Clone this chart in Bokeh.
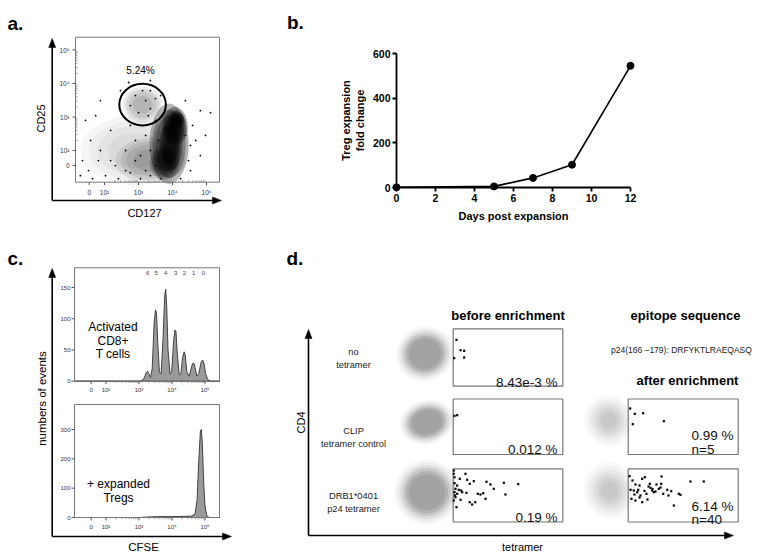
import numpy as np
from bokeh.plotting import figure
from bokeh.models import Range1d, FixedTicker, LinearAxis
from bokeh.core.properties import value
from bokeh.embed import file_html
from bokeh.resources import INLINE

FONT = "Liberation Sans"

# ======================= DATA =======================
# flow-cytometry display scale (biexponential display units: 2 -> 10^2 ... 5 -> 10^5)
flow_ticks = [1.55, 2, 3, 4, 5]
flow_tick_labels = ["0", "10²", "10³", "10⁴", "10⁵"]

# ---- (a) CD127 vs CD25 dot plot ----
a_xlabel = "CD127"
a_ylabel = "CD25"
a_gate_u = [3.12]
a_gate_v = [3.37]
a_gate_w = [1.37]
a_gate_h = [1.24]
a_gate_text = ["5.24%"]
a_gate_text_u = [3.06]
a_gate_text_v = [4.38]
# dot density summarised as ellipses (centre, extent, density)
a_cloud_u = [2.91, 3.35, 3.12, 3.90, 3.76, 4.07, 4.12, 3.95]
a_cloud_v = [2.00, 1.70, 3.37, 2.20, 1.62, 2.72, 2.90, 2.15]
a_cloud_w = [3.24, 2.06, 1.18, 1.15, 0.85, 0.75, 0.47, 0.60]
a_cloud_h = [2.09, 1.34, 1.07, 2.40, 1.00, 1.15, 0.54, 1.50]
a_cloud_density = [0.10, 0.22, 0.22, 0.80, 0.65, 0.95, 0.90, 0.70]
# isolated events
a_dot_u = [1.88, 1.74, 1.44, 2.47, 2.18, 2.76, 4.82, 4.97, 5.12, 4.82, 4.53, 2.32, 1.88, 1.53, 1.29, 2.62,
           2.91, 3.35, 3.06, 4.68, 4.38, 3.65, 3.35, 2.71, 3.35, 1.59, 1.35, 2.03, 2.41, 3.21, 2.91, 2.62,
           2.18, 1.82, 3.50, 4.47, 4.59, 3.65, 4.24, 1.65, 3.35, 3.50, 3.21, 3.59, 4.53, 4.38, 3.06, 2.76,
           2.91, 3.21, 3.35, 3.00, 2.76, 3.50, 3.12, 3.29]
a_dot_v = [3.49, 3.04, 2.90, 3.79, 2.60, 2.75, 3.19, 2.45, 3.13, 1.85, 1.40, 1.55, 2.00, 1.40, 1.25, 1.40,
           1.70, 1.25, 1.16, 2.30, 3.49, 3.64, 3.79, 4.03, 4.09, 2.30, 1.70, 1.25, 1.16, 2.45, 2.30, 2.00,
           1.70, 1.70, 2.90, 1.70, 2.75, 1.16, 1.16, 1.16, 2.00, 1.55, 1.40, 2.30, 2.15, 2.45, 1.85, 1.34,
           3.64, 3.49, 3.25, 3.13, 3.34, 3.55, 3.79, 3.04]

# ---- (b) Treg expansion ----
b_days = [0, 5, 7, 9, 12]
b_fold = [1, 5, 43, 102, 545]
b_xticks = [0, 2, 4, 6, 8, 10, 12]
b_yticks = [0, 200, 400, 600]
b_xlabel = "Days post expansion"
b_ylabel = "Treg expansion\nfold change"

# ---- (c) CFSE histograms ----
c_top_u = [1.06, 3.05, 3.15, 3.22, 3.26, 3.30, 3.35, 3.40, 3.46, 3.50, 3.53, 3.57, 3.62, 3.67, 3.73, 3.78,
           3.81, 3.84, 3.88, 3.94, 3.99, 4.05, 4.09, 4.12, 4.16, 4.22, 4.27, 4.32, 4.37, 4.40, 4.45, 4.52,
           4.57, 4.62, 4.66, 4.70, 4.75, 4.81, 4.88, 4.93, 4.97, 5.02, 5.08, 5.15, 5.45]
c_top_n = [0, 0, 4, 14, 16, 12, 6, 20, 95, 114, 110, 60, 14, 12, 70, 138,
           147, 120, 50, 12, 15, 65, 82, 80, 45, 10, 12, 38, 47, 42, 15, 8,
           18, 28, 29, 22, 8, 12, 30, 34, 28, 12, 3, 0, 0]
c_bot_u = [1.06, 3.00, 3.30, 3.60, 4.00, 4.40, 4.60, 4.70, 4.76, 4.81, 4.86, 4.89, 4.92, 4.96, 5.00, 5.05, 5.12, 5.45]
c_bot_n = [0, 0, 2, 3, 3, 4, 5, 12, 60, 190, 295, 300, 250, 120, 40, 8, 0, 0]
c_top_yticks = [0, 50, 100, 150]
c_bot_yticks = [0, 100, 200, 300]
c_div_u = [3.26, 3.52, 3.81, 4.11, 4.38, 4.66, 4.95]
c_div_labels = ["6", "5", "4", "3", "2", "1", "0"]
c_top_text = ["Activated", "CD8+", "T cells"]
c_bot_text = ["+ expanded", "Tregs"]
c_xlabel = "CFSE"
c_ylabel = "numbers of events"

# ---- (d) tetramer staining ----
d_row_labels = [["no", "tetramer"], ["CLIP", "tetramer control"], ["DRB1*0401", "p24 tetramer"]]
d_before_pct = ["8.43e-3 %", "0.012 %", "0.19 %"]
d_after_pct = ["0.99 %", "6.14 %"]
d_after_n = ["n=5", "n=40"]
d_headers = ["before enrichment", "epitope sequence", "after enrichment"]
d_epitope = "p24(166 –179): DRFYKTLRAEQASQ"
d_xlabel = "tetramer"
d_ylabel = "CD4"
# tetramer+ events (tetramer, CD4) in box units
d1b_t = [0.030, 0.067, 0.100, 0.009, 0.100]
d1b_c = [0.808, 0.627, 0.617, 0.488, 0.500]
d2b_t = [0.012, 0.036]
d2b_c = [0.697, 0.708]
d3b_t = [0.005, 0.005, 0.012, 0.112, 0.060, 0.128, 0.151, 0.188, 0.304, 0.340, 0.462, 0.593, 0.370, 0.012,
         0.036, 0.021, 0.051, 0.073, 0.012, 0.036, 0.082, 0.121, 0.224, 0.249, 0.274, 0.295, 0.477, 0.021,
         0.067, 0.151, 0.173, 0.201, 0.030, 0.005, 0.015]
d3b_c = [0.968, 0.906, 0.842, 0.906, 0.812, 0.793, 0.718, 0.767, 0.756, 0.705, 0.737, 0.711, 0.624, 0.729,
         0.686, 0.624, 0.605, 0.592, 0.560, 0.530, 0.560, 0.549, 0.530, 0.517, 0.541, 0.436, 0.517, 0.466,
         0.417, 0.372, 0.329, 0.372, 0.278, 0.404, 0.498]
d2a_t = [0.018, 0.060, 0.136, 0.042, 0.324]
d2a_c = [0.829, 0.733, 0.744, 0.546, 0.600]
d3a_t = [0.012, 0.127, 0.151, 0.303, 0.566, 0.687, 0.066, 0.103, 0.196, 0.300, 0.021, 0.051, 0.091, 0.203,
         0.218, 0.233, 0.248, 0.355, 0.391, 0.166, 0.318, 0.460, 0.475, 0.112, 0.030, 0.066, 0.127, 0.415,
         0.082, 0.278, 0.185, 0.221, 0.148, 0.039, 0.257, 0.103, 0.366, 0.175, 0.294, 0.057]
d3a_c = [0.861, 0.812, 0.842, 0.855, 0.761, 0.761, 0.705, 0.686, 0.718, 0.718, 0.605, 0.592, 0.605, 0.643,
         0.592, 0.560, 0.573, 0.605, 0.579, 0.530, 0.530, 0.530, 0.511, 0.498, 0.436, 0.404, 0.372, 0.310,
         0.560, 0.624, 0.667, 0.620, 0.584, 0.780, 0.705, 0.460, 0.498, 0.423, 0.648, 0.517]
# CD4+ populations (centre, extent) in box units, per row
d_cloud_before_t = [-0.258, -0.240, -0.240]
d_cloud_before_c = [0.564, 0.582, 0.560]
d_cloud_before_w = [0.37, 0.35, 0.41]
d_cloud_before_h = [0.66, 0.55, 0.84]
d_cloud_after_t = [-0.176, -0.167]
d_cloud_after_c = [0.613, 0.592]
d_cloud_after_w = [0.30, 0.32]
d_cloud_after_h = [0.62, 0.72]

# ======================= CANVAS =======================
W, H = 762, 558


def lin_range(d0, d1, p0, p1, f0, f1):
    s = (d1 - d0) / (p1 - p0)
    return Range1d(start=d0 + (f0 - p0) * s, end=d0 + (f1 - p0) * s)


def xr_(d0, d1, p0, p1):
    return lin_range(d0, d1, p0, p1, 0, W)


def yr_(d0, d1, p0, p1):
    return lin_range(d0, d1, p0, p1, H, 0)


p = figure(width=W, height=H, x_range=Range1d(0, W), y_range=Range1d(H, 0),
           output_backend="svg", toolbar_location=None, tools="",
           x_axis_location=None, y_axis_location=None, min_border=0,
           outline_line_color=None, background_fill_color="white", border_fill_color="white")
p.grid.visible = False
p.extra_x_ranges = {
    "ua": xr_(2, 5, 104, 206),
    "uc": xr_(2, 5, 105.5, 204.5),
    "bx": xr_(0, 12, 396, 630),
    "xb": xr_(0, 1, 452.7, 562.3),
    "xa": xr_(0, 1, 627.7, 737.7),
}
p.extra_y_ranges = {
    "va": yr_(2, 5, 150, 49.5),
    "ctop": yr_(0, 150, 380.7, 287),
    "cbot": yr_(0, 300, 517, 429),
    "by": yr_(0, 600, 187, 53),
    "r1": yr_(0, 1, 385.7, 328.3),
    "r2": yr_(0, 1, 454, 398.5),
    "r3": yr_(0, 1, 521.5, 468.3),
}


def T(x, y, s, size, align="center", baseline="middle", bold=False, angle=0.0,
      color="black", xr="default", yr="default"):
    xs = list(x) if isinstance(x, (list, tuple)) else [x]
    ys = list(y) if isinstance(y, (list, tuple)) else [y]
    ss = list(s) if isinstance(s, (list, tuple)) else [s]
    p.text(x=xs, y=ys, text=ss, text_font=value(FONT), text_font_size=value(f"{size}px"),
           text_font_style="bold" if bold else "normal", text_align=align,
           text_baseline=baseline, angle=angle, text_color=color,
           x_range_name=xr, y_range_name=yr)


def axes_arrows(x0, y0, xtip, ytip):
    p.segment(x0=[x0, x0], y0=[y0, y0], x1=[x0, xtip - 6], y1=[ytip + 6, y0],
              line_color="black", line_width=1.6)
    p.patches(xs=[[x0 - 3.5, x0, x0 + 3.5], [xtip - 9, xtip, xtip - 9]],
              ys=[[ytip + 9, ytip, ytip + 9], [y0 - 3.5, y0, y0 + 3.5]],
              fill_color="black", line_color="black", line_width=0.5)


minor_u = [d + np.log10(k) for d in (2, 3, 4) for k in range(2, 10)]
n = len(flow_ticks)

# ======================= PANEL A =======================
boxA = (75, 219, 36.7, 181.7)
for f, a in ((1.0, 0.35), (0.85, 0.35), (0.7, 0.35), (0.5, 0.4)):
    p.ellipse(x=a_cloud_u, y=a_cloud_v, width=[w * f for w in a_cloud_w], height=[h * f for h in a_cloud_h],
              fill_color="black", fill_alpha=[d * a for d in a_cloud_density], line_color=None,
              x_range_name="ua", y_range_name="va")
p.scatter(x=a_dot_u, y=a_dot_v, size=1.8, color="black", line_color=None, x_range_name="ua", y_range_name="va")
p.ellipse(x=a_gate_u, y=a_gate_v, width=a_gate_w, height=a_gate_h, fill_color=None,
          line_color="black", line_width=2, x_range_name="ua", y_range_name="va")
p.quad(left=[boxA[0]], right=[boxA[1]], top=[boxA[2]], bottom=[boxA[3]],
       fill_color=None, line_color="#777777", line_width=1)
p.segment(x0=[boxA[0]] * n, x1=[boxA[0] - 3] * n, y0=flow_ticks, y1=flow_ticks,
          line_color="#555555", line_width=1, y_range_name="va")
p.segment(x0=flow_ticks, x1=flow_ticks, y0=[boxA[3]] * n, y1=[boxA[3] + 3] * n,
          line_color="#555555", line_width=1, x_range_name="ua")
p.segment(x0=minor_u, x1=minor_u, y0=[boxA[3]] * len(minor_u), y1=[boxA[3] - 2] * len(minor_u),
          line_color="#777777", line_width=0.7, x_range_name="ua")
p.segment(x0=[boxA[0]] * len(minor_u), x1=[boxA[0] + 2] * len(minor_u), y0=minor_u, y1=minor_u,
          line_color="#777777", line_width=0.7, y_range_name="va")
T([boxA[0] - 6] * n, flow_ticks, flow_tick_labels, 6.5, align="right", color="#333333", yr="va")
T(flow_ticks, [boxA[3] + 10] * n, flow_tick_labels, 6.5, color="#333333", xr="ua")
T(a_gate_text_u, a_gate_text_v, a_gate_text, 10, xr="ua", yr="va")
axes_arrows(51.7, 200, 221, 38)
T(40, 118, a_ylabel, 11, angle=np.pi / 2)
T(144, 212, a_xlabel, 11)
T(7, 22.7, "a.", 19, align="left", baseline="alphabetic", bold=True)

# ======================= PANEL B =======================
p.line(b_days, b_fold, line_color="black", line_width=1.6, x_range_name="bx", y_range_name="by")
p.scatter(b_days, b_fold, size=7, color="black", x_range_name="bx", y_range_name="by")
ax_by = LinearAxis(x_range_name="bx", y_range_name="by", fixed_location=0, bounds=(0, 600),
                   ticker=FixedTicker(ticks=b_yticks, minor_ticks=[]), axis_label=b_ylabel)
ax_bx = LinearAxis(x_range_name="bx", y_range_name="by", fixed_location=0, bounds=(0, 12),
                   ticker=FixedTicker(ticks=b_xticks, minor_ticks=[]), axis_label=b_xlabel)
for ax in (ax_by, ax_bx):
    ax.axis_line_width = 1.8
    ax.major_tick_line_width = 1.8
    ax.major_tick_out = 4
    ax.major_tick_in = 0
    ax.minor_tick_out = 0
    ax.major_label_standoff = 2
    ax.major_label_text_font = FONT
    ax.major_label_text_font_size = "10.5px"
    ax.major_label_text_font_style = "bold"
    ax.major_label_text_color = "black"
    ax.axis_label_text_font = FONT
    ax.axis_label_text_font_size = "11px"
    ax.axis_label_text_font_style = "bold"
    ax.axis_label_text_color = "black"
    ax.axis_label_standoff = 5
ax_by.axis_label_standoff = 4
p.add_layout(ax_by, "left")
p.add_layout(ax_bx, "below")
T(286.5, 21.7, "b.", 19, align="left", baseline="alphabetic", bold=True)

# ======================= PANEL C =======================
boxes_c = [(74, 219, 267.3, 380.7, "ctop", c_top_u, c_top_n, c_top_yticks),
           (74, 219, 404, 517, "cbot", c_bot_u, c_bot_n, c_bot_yticks)]
for (l, r, t, b, rn, hu, hn, yt) in boxes_c:
    p.patch(x=hu, y=hn, fill_color="#9a9a9a", line_color="#333333", line_width=0.9,
            x_range_name="uc", y_range_name=rn)
    p.quad(left=[l], right=[r], top=[t], bottom=[b], fill_color=None, line_color="#777777", line_width=1)
    m = len(yt)
    p.segment(x0=[l] * m, x1=[l - 3] * m, y0=yt, y1=yt, line_color="#555555", line_width=1, y_range_name=rn)
    T([l - 4] * m, yt, [str(v) for v in yt], 6, align="right", color="#333333", yr=rn)
    p.segment(x0=flow_ticks, x1=flow_ticks, y0=[b] * n, y1=[b + 3] * n,
              line_color="#555555", line_width=1, x_range_name="uc")
    p.segment(x0=minor_u, x1=minor_u, y0=[b] * len(minor_u), y1=[b + 1.8] * len(minor_u),
              line_color="#777777", line_width=0.7, x_range_name="uc")
    T(flow_ticks, [b + 9] * n, flow_tick_labels, 6, color="#333333", xr="uc")
T(c_div_u, [272.7] * len(c_div_u), c_div_labels, 6, color="#444444", xr="uc")
for i, s in enumerate(c_top_text):
    T(112.5, 326.7 + 13.3 * i, s, 12)
for i, s in enumerate(c_bot_text):
    T(118, 483.3 + 14.4 * i, s, 12)
axes_arrows(51.7, 536, 231, 268)
T(41, 398, c_ylabel, 11.5, angle=np.pi / 2)
T(143, 546, c_xlabel, 11.5)
T(7, 258, "c.", 19, align="left", baseline="alphabetic", bold=True)

# ======================= PANEL D =======================
rows_y = ["r1", "r2", "r3"]
for i, rn in enumerate(rows_y):
    cx, cy = [d_cloud_before_t[i]], [d_cloud_before_c[i]]
    w, h = d_cloud_before_w[i], d_cloud_before_h[i]
    for f, a in ((1.45, 0.08), (1.32, 0.12), (1.2, 0.18), (1.08, 0.3), (0.95, 0.5), (0.8, 0.7)):
        p.ellipse(x=cx, y=cy, width=[w * f], height=[h * f], angle=0.25, fill_color="#9c9c9c",
                  fill_alpha=a, line_color=None, x_range_name="xb", y_range_name=rn)
for i, rn in enumerate(["r2", "r3"]):
    cx, cy = [d_cloud_after_t[i]], [d_cloud_after_c[i]]
    w, h = d_cloud_after_w[i], d_cloud_after_h[i]
    for f, a in ((1.5, 0.06), (1.3, 0.08), (1.1, 0.1), (0.9, 0.14), (0.7, 0.16), (0.5, 0.16)):
        p.ellipse(x=cx, y=cy, width=[w * f], height=[h * f], angle=0.25, fill_color="#9c9c9c",
                  fill_alpha=a, line_color=None, x_range_name="xa", y_range_name=rn)
for xr, rn in (("xb", "r1"), ("xb", "r2"), ("xb", "r3"), ("xa", "r2"), ("xa", "r3")):
    p.quad(left=[0], right=[1], bottom=[0], top=[1], fill_color=None, line_color="#777777",
           line_width=1.2, x_range_name=xr, y_range_name=rn)
for tt, cc, xr, rn in ((d1b_t, d1b_c, "xb", "r1"), (d2b_t, d2b_c, "xb", "r2"), (d3b_t, d3b_c, "xb", "r3"),
                       (d2a_t, d2a_c, "xa", "r2"), (d3a_t, d3a_c, "xa", "r3")):
    p.scatter(x=tt, y=cc, marker="square", size=2.2, color="black", line_color=None,
              x_range_name=xr, y_range_name=rn)
label_y = [(351.7, 364.3), (430, 443), (495, 508)]
for (l1, l2), (y1, y2) in zip(d_row_labels, label_y):
    T(353, y1, l1, 9.3, color="#222222")
    T(353, y2, l2, 9.3, color="#222222")
for s, yb in zip(d_before_pct, (381.5, 448.5, 516.5)):
    T(557, yb, s, 13.5, align="right", baseline="alphabetic", color="#111111")
for s, yb in zip(d_after_pct, (434.5, 505.5)):
    T(733, yb, s, 13.5, align="right", baseline="alphabetic", color="#111111")
for s, yb in zip(d_after_n, (449, 518.5)):
    T(691, yb, s, 13.5, align="left", baseline="alphabetic", color="#111111")
T(507.5, 315, d_headers[0], 13, bold=True)
T(685, 315, d_headers[1], 13, bold=True)
T(681, 349, d_epitope, 8.5, color="#222222")
T(687, 380, d_headers[2], 13, bold=True)
axes_arrows(308, 535, 733, 329)
T(300, 422, d_ylabel, 11, angle=np.pi / 2)
T(522, 546, d_xlabel, 11)
T(286, 258, "d.", 19, align="left", baseline="alphabetic", bold=True)

open("out.html", "w").write(file_html(p, INLINE))
